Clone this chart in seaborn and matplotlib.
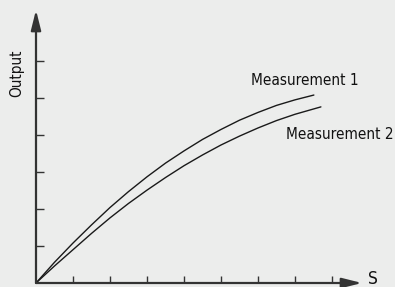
import matplotlib
matplotlib.use("Agg")
import matplotlib.pyplot as plt
import seaborn as sns
import pandas as pd
from matplotlib import font_manager

# Data (units = tick spacing)
x_m1 = [0, 0.5, 1, 1.5, 2, 2.5, 3, 3.5, 4, 4.5, 5, 5.5, 6, 6.5, 7, 7.51]
y_m1 = [0, 0.56, 1.08, 1.57, 2.04, 2.47, 2.87, 3.24, 3.57, 3.88, 4.15, 4.40, 4.61, 4.80, 4.95, 5.08]
x_m2 = [0, 0.5, 1, 1.5, 2, 2.5, 3, 3.5, 4, 4.5, 5, 5.5, 6, 6.5, 7, 7.70]
y_m2 = [0, 0.46, 0.90, 1.34, 1.76, 2.15, 2.51, 2.85, 3.17, 3.46, 3.73, 3.97, 4.19, 4.39, 4.56, 4.76]
series_names = ["Measurement 1", "Measurement 2"]
x_ticks = [1, 2, 3, 4, 5, 6, 7, 8]
y_ticks = [1, 2, 3, 4, 5, 6]

bg = "#ecedec"
sns.set_style("white", {"axes.facecolor": bg, "figure.facecolor": bg})
fonts = font_manager.fontManager.ttflist
names = {f.name for f in fonts}
cond = [f for f in fonts if f.name == "DejaVu Sans" and f.stretch == "condensed" and f.weight == 400 and f.style == "normal"]
plt.rcParams["font.family"] = ["DejaVu Sans"]


def fprop(size):
    if cond:
        return font_manager.FontProperties(fname=cond[0].fname, size=size)
    if "Liberation Sans Narrow" in names:
        return font_manager.FontProperties(family="Liberation Sans Narrow", size=size + 2)
    return font_manager.FontProperties(family="Roboto", size=size)


fp = fprop(11)
fp_s = fprop(12.5)

df = pd.concat([
    pd.DataFrame({"S": x_m1, "Output": y_m1, "series": series_names[0]}),
    pd.DataFrame({"S": x_m2, "Output": y_m2, "series": series_names[1]}),
])

fig = plt.figure(figsize=(3.95, 2.87), dpi=100)
ax = fig.add_axes([36 / 395, 4 / 287, 326 / 395, 273 / 287])
sns.lineplot(data=df, x="S", y="Output", units="series", estimator=None,
             color="#1a1a1a", lw=1.0, ax=ax, legend=False)
ax.set_xlim(0, 326 / 37)
ax.set_ylim(0, 273 / 37)
for s in ax.spines.values():
    s.set_visible(False)
ax.set_xticks(x_ticks)
ax.set_yticks(y_ticks)
ax.set_xticklabels([])
ax.set_yticklabels([])
ax.tick_params(axis="x", direction="in", length=5, width=1, color="#333333")
ax.tick_params(axis="y", direction="in", length=5.5, width=1, color="#333333")
ax.tick_params(axis="both", which="both", bottom=True, left=True)
ax.set_xlabel("")
ax.set_ylabel("")

arrow = dict(arrowstyle="-|>,head_length=1.2,head_width=0.3", color="#333333",
             lw=1.6, shrinkA=0, shrinkB=0)
ax.annotate("", xy=(1, 0), xytext=(0, 0), xycoords="axes fraction",
            textcoords="axes fraction", arrowprops=arrow, annotation_clip=False)
ax.annotate("", xy=(0, 1), xytext=(0, 0), xycoords="axes fraction",
            textcoords="axes fraction", arrowprops=arrow, annotation_clip=False)

col = "#111111"
fig.text(17 / 395, 1 - 73 / 287, "Output", rotation=90, ha="center", va="center",
         fontproperties=fp, color=col)
fig.text(368 / 395, 1 - 279 / 287, "S", ha="left", va="center", fontproperties=fp_s, color=col)
fig.text(251 / 395, 1 - 80.5 / 287, series_names[0], ha="left", va="center",
         fontproperties=fp, color=col)
fig.text(286 / 395, 1 - 134.5 / 287, series_names[1], ha="left", va="center",
         fontproperties=fp, color=col)

fig.savefig("out.png", dpi=100, facecolor=bg)
